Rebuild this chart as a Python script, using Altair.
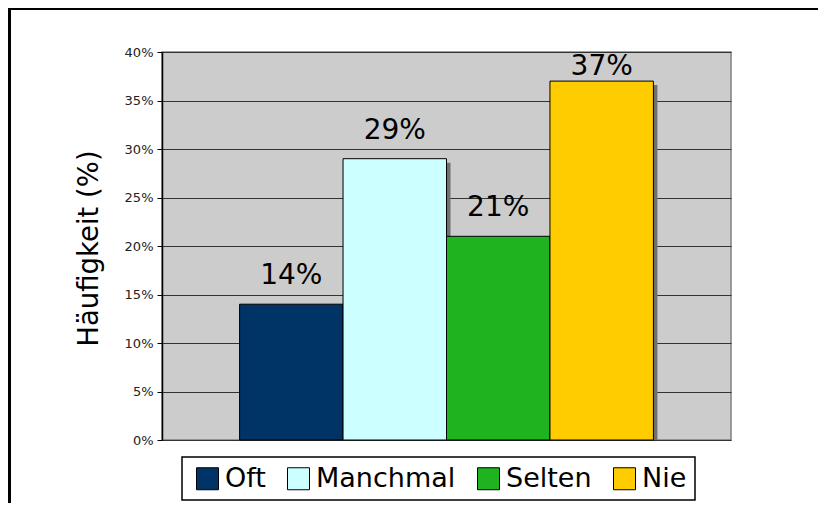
import altair as alt
import pandas as pd

categories = ["Oft", "Manchmal", "Selten", "Nie"]
values = [0.14, 0.29, 0.21, 0.37]
labels = ["14%", "29%", "21%", "37%"]
colors = ["#003366", "#CCFFFF", "#1FB31F", "#FFCC00"]
y_ticks = [0, 0.05, 0.10, 0.15, 0.20, 0.25, 0.30, 0.35, 0.40]

df = pd.DataFrame({"cat": categories, "val": values, "label": labels})
FONT = "DejaVu Sans"

x_enc = alt.X("cat:N", sort=categories, axis=None,
              scale=alt.Scale(paddingInner=0, paddingOuter=0.75))
y_scale = alt.Scale(domain=[0, 0.4], nice=False)
y_enc = alt.Y("val:Q", scale=y_scale,
              axis=alt.Axis(values=y_ticks, format=".0%", title="Häufigkeit (%)",
                            grid=True, gridColor="#333333", gridWidth=1,
                            domainColor="#000000", domainWidth=1.5,
                            tickColor="#000000", tickSize=5,
                            labelFont=FONT, labelFontSize=13, labelColor="#222222",
                            labelPadding=4,
                            titleFont=FONT, titleFontSize=27.5, titleFontWeight="normal",
                            titleColor="#000000", titleX=-73, titleY=196,
                            titleAngle=270, titleAlign="center", titleBaseline="middle"))

shadow = alt.Chart(df).mark_bar(color="#707070", xOffset=4, yOffset=4, y2Offset=0).encode(
    x=x_enc, y=y_enc, y2=alt.datum(0)
)

bars = alt.Chart(df).mark_bar(stroke="#000000", strokeWidth=1).encode(
    x=x_enc,
    y=y_enc,
    color=alt.Color("cat:N", sort=categories,
                    scale=alt.Scale(domain=categories, range=colors),
                    legend=alt.Legend(title=None, orient="none", legendX=20, legendY=405,
                                      direction="horizontal", columns=4,
                                      symbolType="square", symbolSize=484,
                                      symbolStrokeColor="#000000", symbolStrokeWidth=1,
                                      symbolOpacity=1, symbolOffset=4,
                                      labelFont=FONT, labelFontSize=27, labelColor="#000000",
                                      labelOffset=4, columnPadding=15,
                                      padding=8, strokeColor="#000000",
                                      fillColor="#FFFFFF")),
)

# label sits ~20px above the bar top, but is kept inside the plot area (as Excel does)
text = alt.Chart(df).transform_calculate(
    ly="min(datum.val + 0.0206, 0.3763)"
).mark_text(baseline="alphabetic", fontSize=28, font=FONT, color="#000000").encode(
    x=x_enc, y=alt.Y("ly:Q", scale=y_scale), text="label:N"
)

one = alt.Data(values=[{}])
border_left = alt.Chart(one).mark_rule(color="#000000", strokeWidth=3).encode(
    x=alt.value(-152.5), y=alt.value(-45), y2=alt.value(460)
)
border_top = alt.Chart(one).mark_rule(color="#000000", strokeWidth=3).encode(
    x=alt.value(-154), x2=alt.value(700), y=alt.value(-43.5)
)

chart = alt.layer(shadow, bars, text, border_left, border_top).properties(
    width=569, height=388,
    autosize=alt.AutoSizeParams(type="none"),
    padding={"left": 154, "top": 44, "right": 87, "bottom": 63},
    background="#FFFFFF",
).configure_view(fill="#CCCCCC", stroke="#808080", strokeWidth=1.5
).configure_legend(strokeWidth=1.5, cornerRadius=0)

chart.save("out.html", embed_options={"renderer": "svg", "actions": False})
